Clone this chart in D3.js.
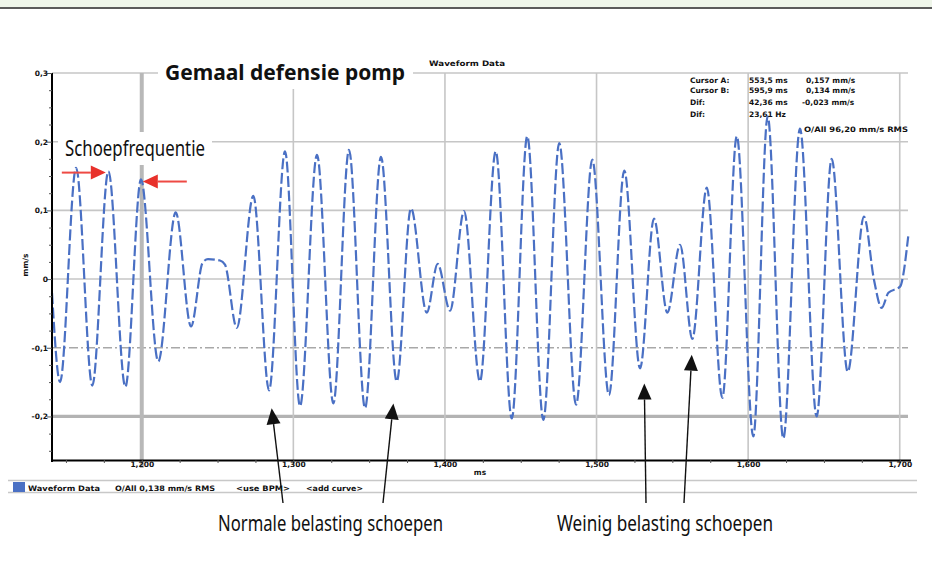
<!DOCTYPE html>
<html>
<head>
<meta charset="utf-8">
<script src="https://cdn.jsdelivr.net/npm/d3@7"></script>
<style>
  body { margin: 0; background: #fff; }
  svg { display: block; }
  .tiny { font-family: "DejaVu Sans", sans-serif; font-weight: bold; font-size: 7.5px; fill: #111; }
  .note { font-family: "Noto Sans", sans-serif; fill: #111; }
</style>
</head>
<body>
<div id="chart"></div>
<script>
// Waveform (time in ms, velocity in mm/s) at the peaks and troughs
const timeMs = [1140.8, 1146.1, 1156.7, 1167.4, 1178.0, 1189.2, 1199.5, 1210.9, 1222.4, 1232.5,
  1240.2, 1243.7, 1251.6, 1254.9, 1262.7, 1273.6, 1284.0, 1294.5, 1304.4, 1315.6,
  1326.4, 1336.7, 1347.3, 1357.8, 1368.2, 1377.6, 1388.0, 1395.2, 1403.4, 1412.6,
  1423.1, 1433.5, 1444.1, 1454.3, 1464.9, 1475.4, 1486.5, 1497.2, 1508.2, 1518.3,
  1528.7, 1537.9, 1546.7, 1555.1, 1563.2, 1572.7, 1583.0, 1592.5, 1603.4, 1612.9,
  1623.2, 1634.2, 1645.2, 1655.1, 1665.7, 1676.4, 1683.0, 1688.1, 1692.5, 1700.2, 1705.6];
const velocity = [-0.020, -0.150, 0.162, -0.155, 0.157, -0.157, 0.145, -0.120, 0.097, -0.069,
  0.024, 0.029, 0.027, 0.021, -0.071, 0.121, -0.162, 0.186, -0.185, 0.181,
  -0.181, 0.188, -0.188, 0.178, -0.149, 0.103, -0.049, 0.022, -0.046, 0.099,
  -0.149, 0.186, -0.203, 0.208, -0.205, 0.198, -0.183, 0.174, -0.169, 0.158,
  -0.130, 0.088, -0.049, 0.050, -0.087, 0.133, -0.173, 0.208, -0.229, 0.237,
  -0.232, 0.219, -0.200, 0.175, -0.135, 0.091, -0.001, -0.042, -0.020, -0.011, 0.062];

// Axes
const xTicks = [1200, 1300, 1400, 1500, 1600, 1700];
const xTickLabels = ["1,200", "1,300", "1,400", "1,500", "1,600", "1,700"];
const yTicks = [0.3, 0.2, 0.1, 0, -0.1, -0.2];
const yTickLabels = ["0,3", "0,2", "0,1", "0", "-0,1", "-0,2"];

// Cursor read-out and legend
const cursorNames = ["Cursor A:", "Cursor B:", "Dif:", "Dif:"];
const cursorTimes = ["553,5 ms", "595,9 ms", "42,36 ms", "23,61 Hz"];
const cursorValues = ["0,157 mm/s", "0,134 mm/s", "-0,023 mm/s", ""];
const overallText = "O/All 96,20 mm/s RMS";
const legendItems = ["Waveform Data", "O/All 0,138 mm/s RMS", "<use BPM>", "<add curve>"];

// Annotations: arrow tips in data units
const loadTips = [{t: 1285.7, v: -0.188}, {t: 1366.0, v: -0.181}, {t: 1531.5, v: -0.152}, {t: 1562.8, v: -0.110}];
const bladeTips = [{t: 1176.3, v: 0.155, dir: 1}, {t: 1200.7, v: 0.142, dir: -1}];

const width = 932, height = 571;
const svg = d3.select('#chart').append('svg')
  .attr('width', width)
  .attr('height', height);

// page header band
svg.append('rect').attr('x', 0).attr('y', 0).attr('width', width).attr('height', 7).attr('fill', '#eef5e9');
svg.append('line').attr('x1', 0).attr('x2', width).attr('y1', 8).attr('y2', 8)
  .attr('stroke', '#5a5a5a').attr('stroke-width', 2);

// Scales
const x = d3.scaleLinear().domain([1140.8, 1707.1]).range([52, 910.5]);
const y = d3.scaleLinear().domain([-0.2634, 0.3]).range([460, 73]);
const gridRight = 908;

// Grid
const grid = svg.append('g').attr('class', 'grid');
grid.selectAll('line.h')
  .data(yTicks)
  .enter().append('line')
    .attr('class', 'h')
    .attr('x1', x.range()[0]).attr('x2', gridRight)
    .attr('y1', d => y(d)).attr('y2', d => y(d))
    .attr('stroke', d => d === -0.2 ? '#b3b3b3' : (d === -0.1 ? '#a8a8a8' : '#c6c6c6'))
    .attr('stroke-width', d => d === -0.2 ? 3.2 : 1.6)
    .attr('stroke-dasharray', d => d === -0.1 ? '9,3,2,3' : null);
grid.selectAll('line.v')
  .data(xTicks)
  .enter().append('line')
    .attr('class', 'v')
    .attr('x1', d => x(d)).attr('x2', d => x(d))
    .attr('y1', y(0.3)).attr('y2', d => d === 1200 ? 468 : 460)
    .attr('stroke', d => d === 1200 ? '#b8b8b8' : '#c6c6c6')
    .attr('stroke-width', d => d === 1200 ? 4 : 1.6);

// Waveform
const line = d3.line()
  .x((d, i) => x(timeMs[i]))
  .y(d => y(d))
  .curve(d3.curveMonotoneX);

svg.append('path')
  .datum(velocity)
  .attr('d', line)
  .attr('fill', 'none')
  .attr('stroke', '#4a70c4')
  .attr('stroke-width', 2.2)
  .attr('stroke-dasharray', '11,3.5');

// Axes
const xAxis = d3.axisBottom(x)
  .tickValues(d3.range(1150, 1701, 25))
  .tickSize(3)
  .tickSizeOuter(0)
  .tickFormat(d => {
    const k = xTicks.indexOf(d);
    return k >= 0 ? xTickLabels[k] : '';
  });
const xG = svg.append('g')
  .attr('transform', `translate(0, 460)`)
  .call(xAxis);
xG.select('.domain').attr('stroke', '#000').attr('stroke-width', 2);
xG.selectAll('.tick line').attr('stroke', '#555');
xG.selectAll('.tick text').attr('class', 'tiny').attr('dy', '0.6em').attr('y', 2);

const yAxis = d3.axisLeft(y)
  .tickValues(d3.range(-0.25, 0.301, 0.025).map(d => Math.round(d * 1000) / 1000))
  .tickSize(3)
  .tickFormat(d => {
    const k = yTicks.findIndex(t => Math.abs(t - d) < 1e-6);
    return k >= 0 ? yTickLabels[k] : '';
  });
const yG = svg.append('g')
  .attr('transform', `translate(52, 0)`)
  .call(yAxis);
yG.select('.domain').attr('stroke', '#000').attr('stroke-width', 2)
  .attr('d', `M0,${y(0.3)}V462`);
yG.selectAll('.tick line').attr('stroke', '#555')
  .attr('x2', d => yTicks.some(t => Math.abs(t - d) < 1e-6) ? -5 : -3);
yG.selectAll('.tick text').attr('class', 'tiny').attr('x', -4);

// axis titles
svg.append('text').attr('class', 'tiny').attr('x', 480).attr('y', 475)
  .attr('text-anchor', 'middle').text('ms');
svg.append('text').attr('class', 'tiny')
  .attr('transform', 'translate(28, 265) rotate(-90)')
  .attr('text-anchor', 'middle').text('mm/s');

// Title block
svg.append('rect').attr('x', 158).attr('y', 56).attr('width', 255).attr('height', 33).attr('fill', '#fff');
svg.append('text')
  .attr('class', 'note')
  .attr('x', 165).attr('y', 80)
  .attr('font-size', 22).attr('font-weight', 'bold')
  .attr('textLength', 240).attr('lengthAdjust', 'spacingAndGlyphs')
  .text('Gemaal defensie pomp');
svg.append('text').attr('class', 'tiny').attr('x', 429).attr('y', 66)
  .attr('textLength', 76).attr('lengthAdjust', 'spacingAndGlyphs')
  .text('Waveform Data');

// Cursor read-out
const rowY = [83, 93, 105, 116.5];
const info = svg.append('g').attr('class', 'info');
cursorNames.forEach((n, i) => {
  info.append('text').attr('class', 'tiny').attr('x', 690).attr('y', rowY[i]).text(n);
  info.append('text').attr('class', 'tiny').attr('x', 749).attr('y', rowY[i]).text(cursorTimes[i]);
  info.append('text').attr('class', 'tiny').attr('x', cursorValues[i].startsWith('-') ? 802 : 806)
    .attr('y', rowY[i]).text(cursorValues[i]);
});
info.append('text').attr('class', 'tiny').attr('x', 804).attr('y', 131.5)
  .attr('textLength', 104).attr('lengthAdjust', 'spacingAndGlyphs')
  .text(overallText);

// Legend row
svg.append('line').attr('x1', 8).attr('x2', 917).attr('y1', 480.5).attr('y2', 480.5)
  .attr('stroke', '#c8c8c8').attr('stroke-width', 1.5);
svg.append('line').attr('x1', 8).attr('x2', 917).attr('y1', 492.5).attr('y2', 492.5)
  .attr('stroke', '#c8c8c8').attr('stroke-width', 1.5);
svg.append('rect').attr('x', 13).attr('y', 482).attr('width', 12).attr('height', 10).attr('fill', '#4a70c4');
const legendX = [28, 115, 236, 306];
const legendW = [72, 100, 54, 57];
svg.selectAll('text.legend')
  .data(legendItems)
  .enter().append('text')
    .attr('class', 'tiny legend')
    .attr('x', (d, i) => legendX[i]).attr('y', 490.5)
    .attr('textLength', (d, i) => legendW[i]).attr('lengthAdjust', 'spacingAndGlyphs')
    .text(d => d);

// Blade frequency annotation
svg.append('rect').attr('x', 58).attr('y', 132).attr('width', 154).attr('height', 33).attr('fill', '#fff');
svg.append('text')
  .attr('class', 'note')
  .attr('x', 65).attr('y', 156)
  .attr('font-size', 21)
  .attr('textLength', 140).attr('lengthAdjust', 'spacingAndGlyphs')
  .text('Schoepfrequentie');

const red = svg.append('g').attr('class', 'red-arrows');
bladeTips.forEach(a => {
  const tx = x(a.t), ty = y(a.v);
  const base = tx - a.dir * 15;
  const tail = tx - a.dir * 44;
  red.append('line')
    .attr('x1', tail).attr('x2', base).attr('y1', ty).attr('y2', ty)
    .attr('stroke', '#ee4a44').attr('stroke-width', 2);
  red.append('path')
    .attr('d', `M${tx},${ty}L${base},${ty - 7}L${base},${ty + 7}Z`)
    .attr('fill', '#e8312b');
});

// Load annotations
const tails = [[283, 503], [383, 503], [646, 503], [684, 503]];
const black = svg.append('g').attr('class', 'black-arrows');
loadTips.forEach((a, i) => {
  const tx = x(a.t), ty = y(a.v);
  const [bx, by] = tails[i];
  const ang = Math.atan2(ty - by, tx - bx);
  const hl = 16, hw = 7;
  const px = tx - hl * Math.cos(ang), py = ty - hl * Math.sin(ang);
  const nx = -Math.sin(ang) * hw, ny = Math.cos(ang) * hw;
  black.append('line')
    .attr('x1', bx).attr('y1', by).attr('x2', px).attr('y2', py)
    .attr('stroke', '#111').attr('stroke-width', 1.4);
  black.append('path')
    .attr('d', `M${tx},${ty}L${px + nx},${py + ny}L${px - nx},${py - ny}Z`)
    .attr('fill', '#111');
});

svg.append('text')
  .attr('class', 'note')
  .attr('x', 218).attr('y', 531)
  .attr('font-size', 21)
  .attr('textLength', 225).attr('lengthAdjust', 'spacingAndGlyphs')
  .text('Normale belasting schoepen');
svg.append('text')
  .attr('class', 'note')
  .attr('x', 557).attr('y', 531)
  .attr('font-size', 21)
  .attr('textLength', 216).attr('lengthAdjust', 'spacingAndGlyphs')
  .text('Weinig belasting schoepen');
</script>
</body>
</html>
